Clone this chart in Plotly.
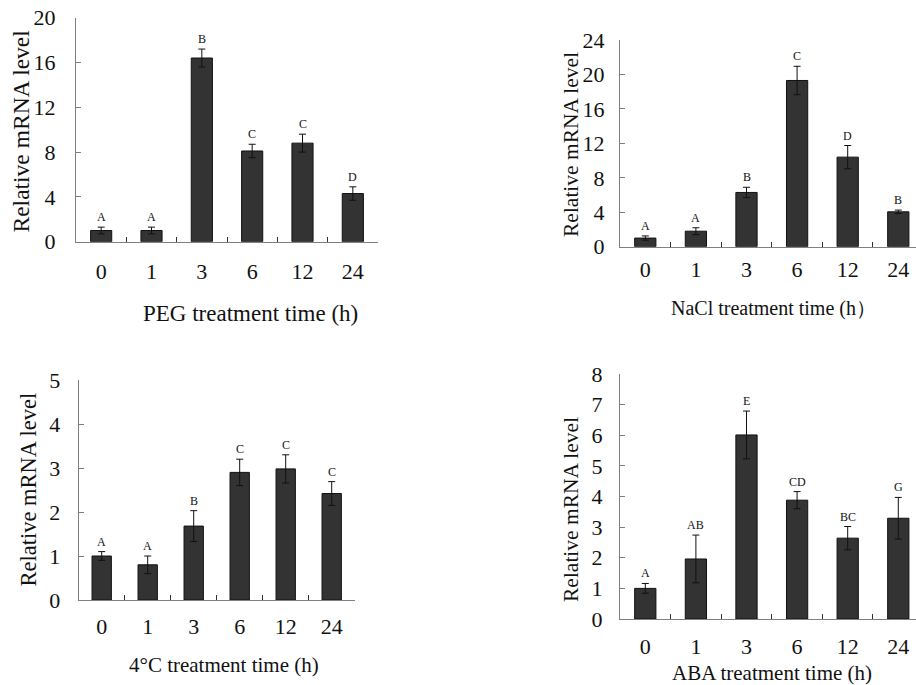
import plotly.graph_objects as go

categories = ["0", "1", "3", "6", "12", "24"]

peg_mean = [1.0, 1.0, 16.4, 8.1, 8.8, 4.3]
peg_err = [0.3, 0.3, 0.8, 0.6, 0.8, 0.6]
peg_labels = ["A", "A", "B", "C", "C", "D"]

nacl_mean = [1.0, 1.8, 6.3, 19.3, 10.4, 4.05]
nacl_err = [0.25, 0.4, 0.6, 1.65, 1.35, 0.2]
nacl_labels = ["A", "A", "B", "C", "D", "B"]

cold_mean = [1.0, 0.8, 1.68, 2.9, 2.98, 2.42]
cold_err = [0.1, 0.2, 0.35, 0.3, 0.32, 0.27]
cold_labels = ["A", "A", "B", "C", "C", "C"]

aba_mean = [1.0, 1.96, 6.01, 3.88, 2.64, 3.29]
aba_err = [0.16, 0.78, 0.78, 0.28, 0.38, 0.68]
aba_labels = ["A", "AB", "E", "CD", "BC", "G"]

panels = [
    dict(mean=peg_mean, err=peg_err, labels=peg_labels, title="PEG treatment time (h)",
         ymax=20, dtick=4, xdom=[76/916, 378/916], ydom=[1-241.7/685, 1-17.7/685],
         xrange=[-0.5, 5.5], xtitle=(250, 313, 23), ytitle=(20, 131.5, 23.5),
         xstand=10, ystand=15),
    dict(mean=nacl_mean, err=nacl_err, labels=nacl_labels, title="NaCl treatment time (h\uff09",
         ymax=24, dtick=4, xdom=[620/916, 1.0], ydom=[1-246.7/685, 1-40/685],
         xrange=[-0.5, 5.35], xtitle=(773, 308, 20), ytitle=(571, 145, 21.5),
         xstand=3, ystand=10),
    dict(mean=cold_mean, err=cold_err, labels=cold_labels, title="4\u00b0C treatment time (h)",
         ymax=5, dtick=1, xdom=[78.7/916, 354.7/916], ydom=[1-600/685, 1-380/685],
         xrange=[-0.5, 5.5], xtitle=(223.5, 665, 21), ytitle=(28, 489.5, 22.5),
         xstand=7, ystand=13),
    dict(mean=aba_mean, err=aba_err, labels=aba_labels, title="ABA treatment time (h)",
         ymax=8, dtick=1, xdom=[620/916, 1.0], ydom=[1-619/685, 1-374/685],
         xrange=[-0.5, 5.35], xtitle=(772, 673, 21), ytitle=(571, 510, 21.5),
         xstand=8, ystand=12),
]

FONT = "Liberation Serif"
AXIS_COLOR = "#808080"

fig = go.Figure()
annotations = []
layout = {}
for i, p in enumerate(panels):
    n = "" if i == 0 else str(i + 1)
    fig.add_trace(go.Bar(
        x=categories, y=p["mean"],
        xaxis="x" + n, yaxis="y" + n,
        marker=dict(color="#333333", line=dict(color="#111111", width=1)),
        width=0.42,
        error_y=dict(type="data", array=p["err"], visible=True, color="#111111",
                     thickness=1, width=3.5),
        showlegend=False,
    ))
    layout["xaxis" + n] = dict(
        domain=p["xdom"], anchor="y" + n, type="category", range=p["xrange"],
        showline=True, linecolor=AXIS_COLOR, linewidth=1,
        ticks="inside", tickson="boundaries", ticklen=5, tickcolor="#333333",
        tickfont=dict(family=FONT, size=22, color="#111111"),
        ticklabelstandoff=p["xstand"],
        showgrid=False, zeroline=False, automargin=False,
    )
    layout["yaxis" + n] = dict(
        domain=p["ydom"], anchor="x" + n, range=[0, p["ymax"]], dtick=p["dtick"],
        showline=True, linecolor=AXIS_COLOR, linewidth=1,
        ticks="inside", ticklen=5, tickcolor=AXIS_COLOR,
        tickfont=dict(family=FONT, size=22, color="#111111"),
        ticklabelstandoff=p["ystand"],
        showgrid=False, zeroline=False, automargin=False,
    )
    # letter labels
    for idx, (m, e, lab) in enumerate(zip(p["mean"], p["err"], p["labels"])):
        annotations.append(dict(
            x=idx, y=m + e, xref="x" + n, yref="y" + n, text=lab, showarrow=False,
            yanchor="bottom", yshift=1, font=dict(family=FONT, size=12, color="#111111"),
        ))
    # x title
    tx, ty, ts = p["xtitle"]
    annotations.append(dict(
        x=tx/916, y=1 - ty/685, xref="paper", yref="paper", text=p["title"],
        showarrow=False, xanchor="center", yanchor="middle",
        font=dict(family=FONT, size=ts, color="#111111"),
    ))
    # y title
    yx, yy, ys = p["ytitle"]
    annotations.append(dict(
        x=yx/916, y=1 - yy/685, xref="paper", yref="paper",
        text="Relative mRNA level", textangle=-90, showarrow=False,
        xanchor="center", yanchor="middle",
        font=dict(family=FONT, size=ys, color="#111111"),
    ))

fig.update_layout(
    width=916, height=685, margin=dict(l=0, r=0, t=0, b=0, autoexpand=False),
    paper_bgcolor="white", plot_bgcolor="white",
    annotations=annotations, bargap=0.58, **layout,
)

fig.write_html("out.html", config={"displayModeBar": False},
               post_script="document.body.style.margin='0';document.body.style.overflow='hidden';")
